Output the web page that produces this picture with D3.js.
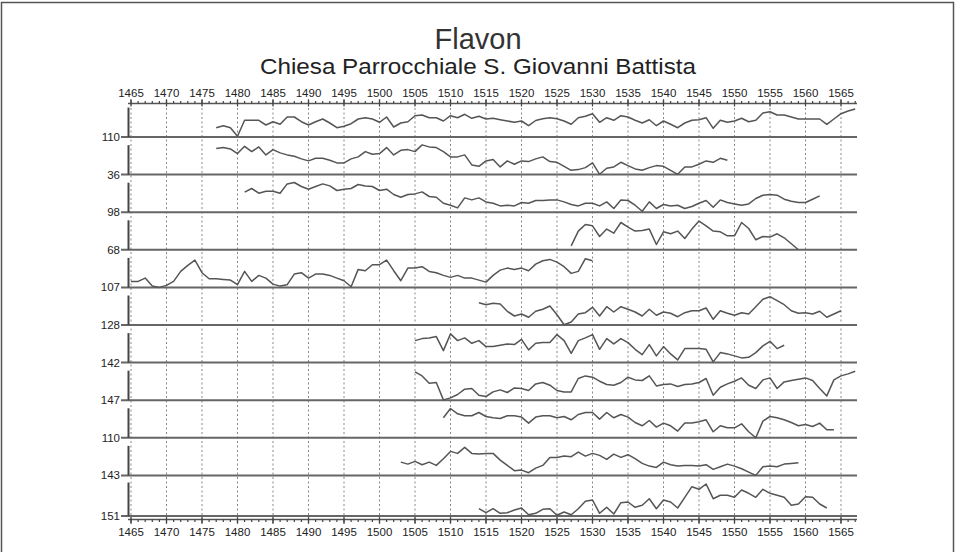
<!DOCTYPE html>
<html><head><meta charset="utf-8">
<script src="https://cdn.jsdelivr.net/npm/d3@7"></script>
<style>
html,body{margin:0;padding:0;background:#fff;}
svg{display:block;font-family:"Liberation Sans",Arial,sans-serif;}
</style></head>
<body>
<svg id="chart" width="955" height="552"></svg>
<script>
// ---------- DATA ----------
const chartTitle = "Flavon";
const chartSubtitle = "Chiesa Parrocchiale S. Giovanni Battista";
const sampleLabels = ["110","36","98","68","107","128","142","147","110","143","151"];
const startYears = [1477,1477,1481,1527,1465,1514,1505,1505,1509,1503,1514];
const tickYears = [1465,1470,1475,1480,1485,1490,1495,1500,1505,1510,1515,1520,1525,1530,1535,1540,1545,1550,1555,1560,1565];

const s1 = [9.3,11.3,9.3,0.7,16.7,16.7,16.7,12,15.3,12.7,20,20,15.3,12,15.3,18,14,9.3,10.7,13.3,18,19.3,18,14.7,20,10,14,15.3,21.3,22,19.3,19.3,16,21.3,19.3,22.7,18.7,20.7,18,18.7,17.3,16,14.7,16,11.3,16.5,18.3,19.3,18.3,16,12.7,19.3,20.7,23.3,14.7,19.3,16.7,21.3,20,16.7,14,17.3,11.3,16,12.7,9.3,14,16.7,17.3,19.3,8.7,16.7,14.7,16,18.7,15.3,16.7,24,25.3,22,22,20,18,18,18,18,12.7,18,23.3,26,28];
const s2 = [26,27,25.7,21,28.3,23,27.7,19.7,25,21.7,19.7,18.3,15.7,13.7,16.3,16.3,14.3,11.7,11.7,15.7,17.7,23,20.3,21,27,19.7,24.3,25,23,29.7,27.7,27,23,17.7,17.7,19.7,9.7,8.3,13.7,15,7.7,13.7,10.3,13.7,13,15.7,17.7,13,12.3,8.3,4.3,5,7,11.7,0.3,6.3,7.7,12.3,9,5.7,4.3,7,9,8.3,4.3,0.3,7.7,7.7,10.3,13.7,12.3,16.3,14.3];
const s3 = [20,23.7,19,21,21,19,28.3,29.7,25.7,23,25.7,28.3,26.3,21.7,23,23.7,27.7,26.3,25.7,21.7,23,17.7,15,17.7,18.3,20.3,15.7,15,9,7,4.3,14.3,12.3,14.3,10.3,9,6.3,7,6.3,9.7,9,11.7,11.7,12.3,12.3,10.3,7.7,6.3,9,9,6.3,10.3,3.7,12.3,11.7,7,1,10.3,3.7,7.7,6.3,7,3.7,5.7,9,11.7,5,12.3,9.7,8.3,7,8.3,13.7,17,17.7,17,13,11,9.7,9.7,13,16.3];
const s4 = [4,18.7,25.3,24,13.3,20.7,16.7,27.3,22.7,18.7,19.3,20.7,5.3,18,16,18.7,11.3,20.7,28.7,24,18.7,18,14,14,27.3,21.3,10,13.3,12.7,16,12,6,0];
const s5 = [6,6,9.3,1.3,0,2,6,16,22,27.3,14.7,8.7,8.7,8,7.3,2.7,16,6,12,9.3,3.3,1.3,2.7,13.3,14.7,9.3,13.3,13.3,12,9.3,6.7,0.7,18,16.7,22.7,22.7,27.3,16.7,6.7,19.3,19.3,20.7,16,14.7,12,10,12,9.3,9.3,7.3,5.3,12,17.3,19.3,18,19.3,16.7,23.3,26.7,28,25.3,20.7,14,16,28.7,26.7];
const s6 = [22.3,20.3,21.7,21,13.7,9,11,7.7,13.7,15.7,19,10.3,0.3,3,11,12.3,17.7,9,18.3,13,18.3,15.7,13,9,15.7,9.7,13,11.7,8.3,12.3,14.3,14.3,17,5.7,14.3,11.7,9.7,12.3,11,18.3,25.7,28.3,24.3,20.3,14.3,11.7,12.3,11,13.7,7.7,11,14.3];
const s7 = [22,24,24.7,26,12,28.7,22,24.7,19.3,22,16,16,17.3,18.7,18,23.3,12.7,19.3,20,20,28,22,9.3,22,24.7,28,13.3,24,18.7,24,20,13.3,8,18,6.7,16,8.7,2.7,14,14,14,13.3,0.7,10,8.7,6.7,4.7,5.3,10,16.7,21.3,14,17.3];
const s8 = [28.3,24.3,17,17.7,0.3,2.3,5.7,11,11.7,5,3.7,8.3,10.3,7.7,12.3,11.7,9.7,16.3,17.7,15,9.7,8.3,8.3,21.7,24.3,23,19,15.7,15,17.7,23,20.3,19.7,24.3,14.3,15.7,16.3,13.7,15.7,16.3,17.7,21.7,5,13,16.3,19,22.3,15,11.7,20.3,22.3,11.7,18.3,19.7,21,22.3,19.7,11.7,4.3,20.3,24.3,26.3,29];
const s9 = [20,29.3,24,22,22,25.3,21.3,20,19.3,22,22,20.7,14.7,20.7,22,22,20,21.3,18,23.3,25.3,25.3,18.7,25.3,20,23.3,20.7,15.3,12,17.3,10.7,14.7,12,6.7,14.7,14.7,16,18,6,12,10,10,14,6,0,16.7,21.3,20,18,15.3,12,13.3,11.3,14.7,8,8];
const s10 = [13.3,11.3,14,10.7,13.3,10,16.7,24,22,28,22,21.3,22,22,15.3,10,4.7,5.3,2.7,7.3,10,18,18,19.3,18.7,23.3,19.3,22,20,16,21.3,18,20.7,16.7,12,9.3,8,13.3,10.7,9.3,10,10,9.3,10.7,6,8.7,11.3,9.3,6.7,3.3,0,8.7,9.3,8.7,11.3,12,12.7];
const s11 = [7.3,3.3,7.3,2.7,3.3,6,8,1.3,2.7,6.7,7.3,0.7,4,1.3,7.3,14.7,16,2.7,8.7,2,13.3,14,8.7,10.7,17.3,7.3,16,14,8,18.7,29.3,26.7,32,17.3,20.7,20.7,18.7,26,22.7,18.7,26.7,22.7,20.7,18.7,10.7,12,19.3,18.7,12,8];
const seriesValues = [s1,s2,s3,s4,s5,s6,s7,s8,s9,s10,s11];

// ---------- LAYOUT ----------
const svg = d3.select("#chart");
const W = 955, H = 552;
const axisX0 = 128, axisX1 = 857;
const topAxisY = 103.5, bottomAxisY = 519.5;
const firstBase = 137, bandStep = 37.6, lastBase = 516;
const bandH = 29.5;

const x = d3.scaleLinear().domain([1465, 1565]).range([131, 841]);
const baseY = i => i < sampleLabels.length - 1 ? firstBase + i * bandStep : lastBase;

// frame
svg.append("rect").attr("x",1.5).attr("y",2.5).attr("width",W-3).attr("height",H+10)
  .attr("fill","none").attr("stroke","#555").attr("stroke-width",1.5);

// titles
svg.append("text").attr("x",478).attr("y",49).attr("text-anchor","middle")
  .attr("font-size",29).attr("fill","#333").text(chartTitle);
svg.append("text").attr("x",478).attr("y",74).attr("text-anchor","middle")
  .attr("font-size",22).attr("fill","#222")
  .attr("textLength",436).attr("lengthAdjust","spacingAndGlyphs").text(chartSubtitle);

// dotted grid lines
svg.append("g").selectAll("line").data(tickYears).join("line")
  .attr("x1",d=>x(d)).attr("x2",d=>x(d))
  .attr("y1",topAxisY).attr("y2",bottomAxisY)
  .attr("stroke","#888").attr("stroke-width",1).attr("stroke-dasharray","2,2.5");

// axes
const allYears = d3.range(1465, 1568);
function drawAxis(y, dir) {
  const g = svg.append("g");
  g.append("line").attr("x1",axisX0).attr("x2",axisX1).attr("y1",y).attr("y2",y)
    .attr("stroke","#555").attr("stroke-width",1.5);
  g.selectAll("line.minor").data(allYears).join("line").attr("class","minor")
    .attr("x1",d=>x(d)).attr("x2",d=>x(d))
    .attr("y1",y).attr("y2",d=> d%5===0 ? y+dir*4 : y+dir*2.5)
    .attr("stroke","#444").attr("stroke-width",1.2);
  g.selectAll("line.major").data(tickYears).join("line").attr("class","major")
    .attr("x1",d=>x(d)).attr("x2",d=>x(d))
    .attr("y1",y-dir*3).attr("y2",y+dir*4)
    .attr("stroke","#444").attr("stroke-width",1.2);
  g.selectAll("text").data(tickYears).join("text")
    .attr("x",d=>x(d)).attr("y", dir<0 ? y-6.5 : y+16)
    .attr("text-anchor","middle").attr("font-size",11.5).attr("fill","#222")
    .text(d=>d);
}
drawAxis(topAxisY, -1);
drawAxis(bottomAxisY, 1);

// bands
const line = d3.line().curve(d3.curveLinear);
sampleLabels.forEach((lab, i) => {
  const b = baseY(i);
  const top = i < sampleLabels.length - 1 ? b - bandH : b - 33.5;
  const y = d3.scaleLinear().domain([0, 30]).range([b, b - 30]);
  const g = svg.append("g");
  // baseline
  g.append("line").attr("x1",121).attr("x2",axisX1).attr("y1",b).attr("y2",b)
    .attr("stroke","#666").attr("stroke-width",2);
  // left vertical bar
  g.append("line").attr("x1",128.5).attr("x2",128.5).attr("y1",top).attr("y2",b)
    .attr("stroke","#444").attr("stroke-width",2);
  // label
  g.append("text").attr("x",120).attr("y",b+4).attr("text-anchor","end")
    .attr("font-size",11.5).attr("fill","#222").text(lab);
  // series
  const vals = seriesValues[i];
  const pts = vals.map((v, k) => [x(startYears[i] + k), y(v)]);
  g.append("path").attr("d", line(pts)).attr("fill","none")
    .attr("stroke","#555").attr("stroke-width",1.5).attr("stroke-linejoin","round");
});
</script>
</body></html>
